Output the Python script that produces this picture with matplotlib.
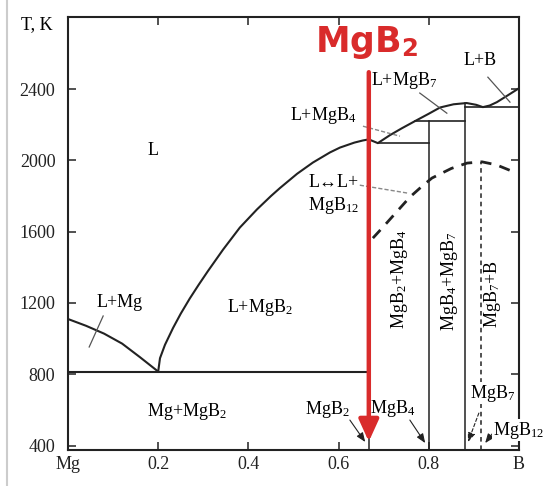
import matplotlib
matplotlib.use("Agg")
import matplotlib.pyplot as plt
from matplotlib.lines import Line2D

plt.rcParams["font.family"] = ["Liberation Serif", "DejaVu Serif"]
plt.rcParams["mathtext.fontset"] = "stix"

# --- data (x = atomic fraction of B, T in K) ---
liq_mg_x = [0.0, 0.04, 0.08, 0.12, 0.16, 0.2]
liq_mg_T = [1110, 1072, 1028, 972, 895, 815]

liq_x = [0.2, 0.204, 0.215, 0.233, 0.25, 0.27, 0.29, 0.31, 0.344, 0.381,
         0.419, 0.45, 0.47, 0.508, 0.543, 0.581, 0.603, 0.635, 0.654, 0.667,
         0.687, 0.714, 0.74, 0.769, 0.8, 0.825, 0.855, 0.884, 0.905, 0.92,
         0.935, 0.951, 0.975, 1.0]
liq_T = [815, 890, 965, 1060, 1140, 1225, 1303, 1378, 1500, 1623,
         1725, 1800, 1845, 1925, 1988, 2045, 2072, 2100, 2112, 2118,
         2097, 2142, 2180, 2220, 2262, 2297, 2315, 2322, 2312, 2299,
         2308, 2327, 2365, 2405]

dash_x = [0.676, 0.70, 0.73, 0.758, 0.785, 0.807, 0.85, 0.885, 0.918, 0.95, 0.984]
dash_T = [1564, 1630, 1715, 1794, 1855, 1901, 1955, 1985, 1992, 1975, 1940]

eut_T = 815
# peritectic horizontals: (x_from, x_to, T)
peri = [(0.687, 0.80, 2097), (0.769, 0.88, 2220), (0.88, 1.0, 2300)]
# compound lines: (x, T_top)
compounds = [(0.667, 2118), (0.80, 2220), (0.88, 2322)]
mgb12_x, mgb12_top = 0.916, 1992

yticks = [400, 800, 1200, 1600, 2000, 2400]
xticks = [0.0, 0.2, 0.4, 0.6, 0.8, 1.0]
xlabels = ["Mg", "0.2", "0.4", "0.6", "0.8", "B"]

K = "#222222"
RED = "#d92b2b"
FS = 13

fig = plt.figure(figsize=(5.43, 4.86), dpi=100)
ax = fig.add_axes([0.1252, 0.0741, 0.8306, 0.891])
ax.set_xlim(0, 1)
ax.set_ylim(375, 2805)

ax.plot(liq_mg_x, liq_mg_T, color=K, lw=1.5)
ax.plot(liq_x, liq_T, color=K, lw=1.5)
ax.plot([0, 0.667], [eut_T, eut_T], color=K, lw=1.5)
for x0, x1, t in peri:
    ax.plot([x0, x1], [t, t], color=K, lw=1.2)
for x, t in compounds:
    ax.plot([x, x], [375, t], color=K, lw=1.1)
ax.plot([mgb12_x, mgb12_x], [375, mgb12_top], color=K, lw=1.1, ls=(0, (3, 2.5)))
ax.plot(dash_x, dash_T, color=K, lw=2, ls=(0, (4, 3)))

# region labels
ax.text(0.188, 2058, "L", fontsize=FS, ha="center", va="center")
ax.text(0.115, 1205, "L+Mg", fontsize=FS, ha="center", va="center")
ax.text(0.426, 1172, "L+MgB$_\\mathregular{2}$", fontsize=FS, ha="center", va="center")
ax.text(0.264, 590, "Mg+MgB$_\\mathregular{2}$", fontsize=FS, ha="center", va="center")
ax.text(0.565, 2254, "L+MgB$_\\mathregular{4}$", fontsize=FS, ha="center", va="center")
ax.text(0.745, 2450, "L+MgB$_\\mathregular{7}$", fontsize=FS, ha="center", va="center")
ax.text(0.913, 2563, "L+B", fontsize=FS, ha="center", va="center")
ax.text(0.588, 1805, "L\u2194L+\nMgB$_\\mathregular{12}$", fontsize=FS,
        ha="center", va="center", linespacing=1.25)
ax.text(0.736, 1334, "MgB$_\\mathregular{2}$+MgB$_\\mathregular{4}$", fontsize=FS,
        rotation=90, ha="center", va="center")
ax.text(0.847, 1323, "MgB$_\\mathregular{4}$+MgB$_\\mathregular{7}$", fontsize=FS,
        rotation=90, ha="center", va="center")
ax.text(0.942, 1250, "MgB$_\\mathregular{7}$+B", fontsize=FS,
        rotation=90, ha="center", va="center")

# leader lines
GR = "#555555"
ax.plot([0.078, 0.047], [1127, 953], color=GR, lw=0.9)
ax.plot([0.654, 0.736], [2192, 2136], color="#888888", lw=1.0, ls=(0, (3, 1.5)))
ax.plot([0.78, 0.84], [2378, 2265], color=GR, lw=0.9)
ax.plot([0.931, 0.98], [2467, 2327], color=GR, lw=0.9)
ax.plot([0.647, 0.752], [1861, 1817], color="#888888", lw=1.0, ls=(0, (3, 1.5)))

# compound arrows at the bottom
ap = dict(arrowstyle="-|>,head_length=0.55,head_width=0.22", lw=0.8, color=K,
          shrinkA=0, shrinkB=0, mutation_scale=10)
ax.annotate("", xy=(0.659, 420), xytext=(0.625, 543), arrowprops=ap)
ax.text(0.576, 600, "MgB$_\\mathregular{2}$", fontsize=FS, ha="center", va="center")
ax.annotate("", xy=(0.792, 414), xytext=(0.758, 543), arrowprops=ap)
ax.text(0.72, 610, "MgB$_\\mathregular{4}$", fontsize=FS, ha="center", va="center")
ap_d = dict(ap, ls=(0, (3, 2)))
ax.annotate("", xy=(0.887, 420), xytext=(0.911, 582), arrowprops=ap_d)
ax.text(0.942, 694, "MgB$_\\mathregular{7}$", fontsize=FS, ha="center", va="center",
        bbox=dict(fc="white", ec="none", pad=0.5), zorder=5)
ax.annotate("", xy=(0.925, 414), xytext=(0.945, 480), arrowprops=ap)
ax.text(0.998, 487, "MgB$_\\mathregular{12}$", fontsize=FS, ha="center", va="center",
        bbox=dict(fc="white", ec="none", pad=0.5), zorder=5, clip_on=False)

# red highlight
ax.annotate("", xy=(0.667, 422), xytext=(0.667, 2495),
            arrowprops=dict(arrowstyle="-|>,head_length=1.1,head_width=0.5",
                            lw=3.2, color=RED, shrinkA=0, shrinkB=0,
                            mutation_scale=12), zorder=6)
ax.text(0.663, 2664, "MgB$_\\mathregular{2}$", fontsize=25, color=RED,
        ha="center", va="center", family="DejaVu Sans", fontweight="bold", zorder=7)

# axes styling
ax.set_xticks(xticks)
ax.set_xticklabels(xlabels)
ax.set_yticks(yticks)
ax.tick_params(direction="in", length=5.5, width=1.1, labelsize=FS,
               top=True, right=True, colors=K)
ax.tick_params(axis="y", pad=9)
ax.tick_params(axis="x", pad=4)
for s in ax.spines.values():
    s.set_linewidth(1.5)
    s.set_color(K)

fig.text(37 / 543, 1 - 25 / 486, "T, K", fontsize=FS, ha="center", va="center")
fig.add_artist(Line2D([7 / 543, 7 / 543], [0, 1], color="#cccccc", lw=1.5))

fig.savefig("out.png", dpi=100)
